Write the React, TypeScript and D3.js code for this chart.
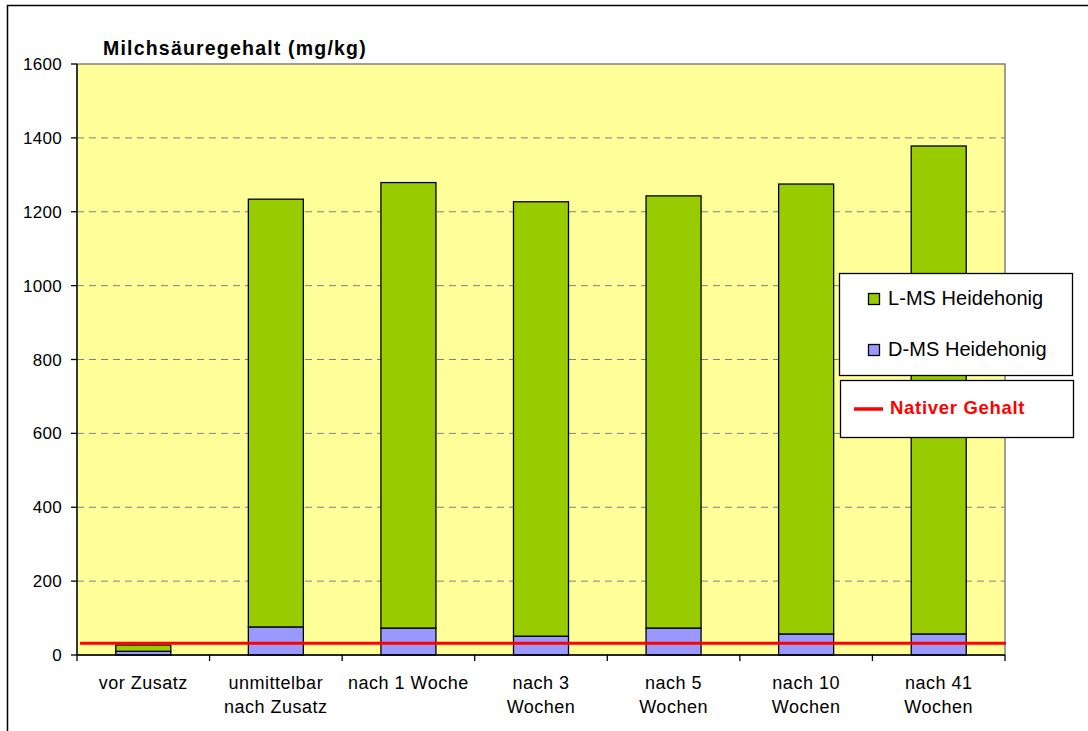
import React from "react";
import * as d3 from "d3";

const categories = [
  ["vor Zusatz"],
  ["unmittelbar", "nach Zusatz"],
  ["nach 1 Woche"],
  ["nach 3", "Wochen"],
  ["nach 5", "Wochen"],
  ["nach 10", "Wochen"],
  ["nach 41", "Wochen"],
];
const dValues = [10, 76, 73, 51, 73, 57, 57];
const lValues = [17, 1158, 1206, 1176, 1170, 1218, 1321];
const nativeValue = 32;
const yTicks = [0, 200, 400, 600, 800, 1000, 1200, 1400, 1600];
const seriesNames = ["L-MS Heidehonig", "D-MS Heidehonig"];
const nativeName = "Nativer Gehalt";
const title = "Milchsäuregehalt (mg/kg)";

const W = 1088;
const H = 731;
const plot = { left: 77, right: 1005, top: 64, bottom: 655 };

export default function App() {
  const x = d3
    .scaleBand<number>()
    .domain(d3.range(categories.length))
    .range([plot.left, plot.right])
    .paddingInner(0.585)
    .paddingOuter(0.2925);
  const xb = d3
    .scaleBand<number>()
    .domain(d3.range(categories.length))
    .range([plot.left, plot.right]);
  const y = d3.scaleLinear().domain([0, 1600]).range([plot.bottom, plot.top]);

  const stacked = d3
    .stack<number>()
    .keys(["D", "L"])
    .value((i, k) => (k === "D" ? dValues[i] : lValues[i]))(d3.range(categories.length));
  const colors: Record<string, string> = { D: "#9999FF", L: "#99CC00" };

  const font = "Liberation Sans, Arial, sans-serif";

  return (
    <svg
      width={W}
      height={H}
      style={{ position: "absolute", left: 0, top: 0, background: "#fff" }}
      fontFamily={font}
    >
      <rect x={7.5} y={5.5} width={W + 10} height={H + 10} fill="#fff" stroke="#000" strokeWidth={1.5} />
      <rect
        x={plot.left}
        y={plot.top}
        width={plot.right - plot.left}
        height={plot.bottom - plot.top}
        fill="#FFFF99"
        stroke="#808080"
        strokeWidth={1.5}
      />
      {yTicks
        .filter((t) => t > 0 && t < 1600)
        .map((t) => (
          <line
            key={t}
            x1={plot.left}
            x2={plot.right}
            y1={y(t)}
            y2={y(t)}
            stroke="#808080"
            strokeWidth={1}
            strokeDasharray="7,5"
          />
        ))}
      {stacked.map((s) =>
        s.map((d, i) => (
          <rect
            key={s.key + i}
            x={x(i)}
            y={y(d[1])}
            width={x.bandwidth()}
            height={y(d[0]) - y(d[1])}
            fill={colors[s.key]}
            stroke="#000"
            strokeWidth={1.3}
          />
        ))
      )}
      <line
        x1={plot.left + 3}
        x2={plot.right + 1}
        y1={y(nativeValue)}
        y2={y(nativeValue)}
        stroke="#FF0000"
        strokeWidth={3}
      />
      {/* axes */}
      <line x1={plot.left} x2={plot.left} y1={plot.top} y2={plot.bottom} stroke="#000" strokeWidth={1.3} />
      <line x1={plot.left} x2={plot.right} y1={plot.bottom} y2={plot.bottom} stroke="#000" strokeWidth={1.3} />
      {yTicks.map((t) => (
        <g key={t}>
          <line x1={plot.left - 6} x2={plot.left} y1={y(t)} y2={y(t)} stroke="#000" strokeWidth={1.3} />
          <text x={62} y={y(t) + 6} textAnchor="end" fontSize={17} fill="#000" letterSpacing={0.3}>
            {t}
          </text>
        </g>
      ))}
      {d3.range(categories.length + 1).map((i) => {
        const xx = i < categories.length ? (xb(i) as number) : plot.right;
        return (
          <line key={i} x1={xx} x2={xx} y1={plot.bottom} y2={plot.bottom + 6} stroke="#000" strokeWidth={1.3} />
        );
      })}
      {categories.map((lines, i) => (
        <text
          key={i}
          x={(xb(i) as number) + xb.bandwidth() / 2}
          y={689}
          textAnchor="middle"
          fontSize={18}
          fill="#000"
          letterSpacing={0.5}
        >
          {lines.map((l, j) => (
            <tspan key={j} x={(xb(i) as number) + xb.bandwidth() / 2} dy={j === 0 ? 0 : 24}>
              {l}
            </tspan>
          ))}
        </text>
      ))}
      <text x={103} y={55} fontSize={19.5} fontWeight="bold" fill="#000" letterSpacing={1.2}>
        {title}
      </text>
      {/* legend */}
      <rect x={839.5} y={273.5} width={233} height={102} fill="#fff" stroke="#000" strokeWidth={1.3} />
      {seriesNames.map((n, i) => (
        <g key={n}>
          <rect
            x={868.5}
            y={293.5 + i * 51}
            width={11}
            height={11}
            fill={i === 0 ? colors.L : colors.D}
            stroke="#000"
            strokeWidth={1.3}
          />
          <text x={888} y={305 + i * 51} fontSize={20} fill="#000" letterSpacing={0.05}>
            {n}
          </text>
        </g>
      ))}
      <rect x={840.5} y={380.5} width={233} height={57} fill="#fff" stroke="#000" strokeWidth={1.3} />
      <line x1={854} x2={883} y1={409} y2={409} stroke="#FF0000" strokeWidth={3.5} />
      <text x={890} y={414} fontSize={18.5} fontWeight="bold" fill="#FF0000" letterSpacing={0.7}>
        {nativeName}
      </text>
    </svg>
  );
}
